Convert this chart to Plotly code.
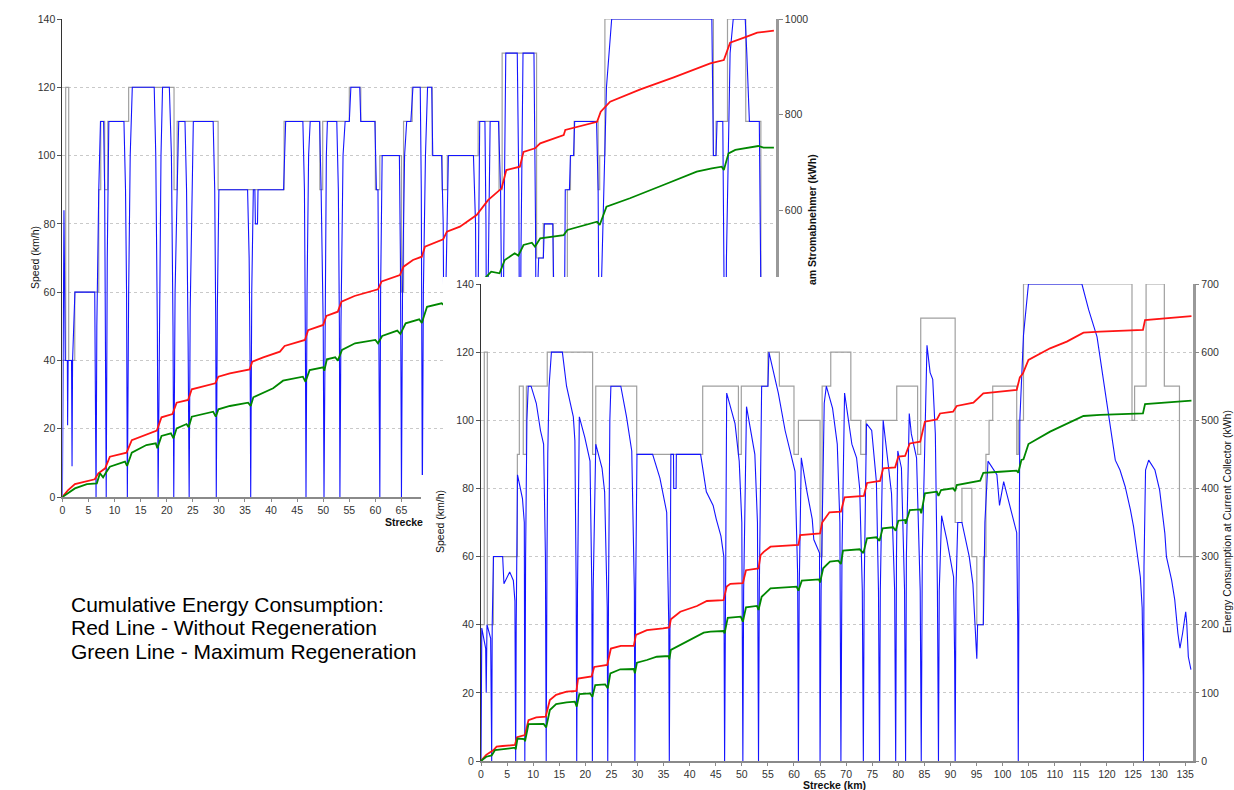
import plotly.graph_objects as go

W, H = 1234, 790

# ---------------- data (km, value) ----------------
SPEED_LIMIT = [(0, 40), (0.63, 120), (1.21, 40), (2.37, 60), (6.97, 90), (7.35, 110), (8.1, 90), (8.7, 110),
               (12.7, 120), (21.4, 90), (22.0, 110), (29.85, 90), (42.5, 110), (49.35, 90), (49.9, 110),
               (55.0, 120), (57.2, 110), (60.0, 90), (60.85, 100), (65.0, 60), (65.4, 110), (67.05, 120),
               (70.9, 100), (72.8, 90), (73.8, 100), (79.7, 110), (83.7, 90), (84.3, 130), (90.9, 70),
               (92.2, 80), (94.1, 60), (95.05, 40), (96.3, 60), (96.8, 90), (97.4, 100), (98.1, 110),
               (102.7, 90), (103.0, 100), (104.0, 140), (124.8, 100), (125.3, 110), (127.5, 140),
               (131.0, 110), (133.9, 60), (136.6, 60)]

TOP_SPEED = [(0, 0), (0.3, 84), (0.55, 40), (0.95, 40), (1.0, 21), (1.1, 40), (1.75, 40), (1.85, 9), (1.95, 40),
             (2.4, 60), (6.2, 60), (6.35, 35), (6.45, 0), (6.6, 50), (6.97, 90), (7.3, 110), (7.9, 110), (8.1, 90),
             (8.25, 50), (8.4, 0), (8.6, 70), (8.9, 110), (11.8, 110), (12.1, 90), (12.3, 60), (12.45, 0),
             (12.7, 60), (13.0, 100), (13.4, 120), (17.6, 120), (17.9, 100), (18.2, 50), (18.35, 0), (18.6, 60),
             (18.9, 100), (19.2, 120), (20.5, 120), (20.9, 100), (21.2, 50), (21.35, 0), (21.6, 60), (22.0, 90),
             (22.3, 110), (23.5, 110), (23.8, 90), (24.1, 45), (24.3, 0), (24.5, 55), (24.9, 100), (25.1, 110),
             (28.9, 110), (29.2, 90), (29.4, 50), (29.5, 0), (29.7, 55), (30.0, 90), (35.5, 90), (35.8, 70),
             (36.0, 35), (36.1, 0), (36.3, 60), (36.6, 90), (36.9, 90), (37.0, 80), (37.4, 80), (37.5, 90),
             (42.4, 90), (42.8, 110), (46.1, 110), (46.4, 90), (46.6, 40), (46.7, 0), (46.9, 60), (47.2, 100),
             (47.5, 110), (49.3, 110), (49.6, 90), (50.0, 50), (50.15, 0), (50.35, 60), (50.6, 100), (50.8, 110),
             (52.6, 110), (52.9, 90), (53.1, 50), (53.2, 0), (53.4, 50), (53.8, 100), (54.2, 110), (55.0, 110),
             (55.3, 120), (57.0, 120), (57.2, 110), (59.9, 110), (60.2, 90), (60.5, 90), (60.7, 50), (60.85, 0),
             (61.0, 60), (61.3, 100), (64.6, 100), (64.8, 70), (64.95, 20), (65.0, 0), (65.2, 60), (65.6, 100),
             (66.0, 110), (66.8, 110), (67.2, 120), (68.6, 120), (68.8, 90), (68.95, 40), (69.0, 0), (69.2, 60),
             (69.6, 100), (70.0, 120), (70.8, 120), (71.0, 100), (72.7, 100), (73.0, 80), (73.2, 40), (73.3, 0),
             (73.5, 60), (74.0, 100), (78.8, 100), (79.2, 80), (79.45, 20), (79.5, 0), (79.7, 60), (80.0, 110),
             (81.0, 110), (81.2, 80), (81.35, 20), (81.4, 0), (81.6, 60), (82.0, 110), (83.6, 110), (84.0, 90),
             (84.3, 40), (84.4, 0), (84.6, 70), (85.0, 130), (87.2, 130), (87.5, 90), (87.65, 30), (87.7, 0),
             (87.9, 70), (88.3, 130), (90.4, 130), (90.7, 80), (90.85, 30), (90.9, 0), (91.1, 60), (91.3, 70),
             (92.2, 70), (92.4, 80), (94.0, 80), (94.2, 60), (95.0, 60), (95.05, 40), (96.2, 40), (96.4, 90),
             (97.2, 90), (97.4, 100), (98.0, 100), (98.2, 110), (102.4, 110), (102.7, 90), (102.9, 40), (103.0, 0),
             (103.3, 60), (104.0, 100), (104.3, 120), (105.3, 140), (124.5, 140), (124.8, 100), (125.3, 100),
             (125.5, 110), (126.6, 110), (126.9, 50), (127.0, 0), (127.3, 70), (128.0, 130), (128.6, 140),
             (130.9, 140), (131.2, 130), (131.7, 110), (133.6, 110), (133.9, 60), (136.6, 60)]

TOP_RED = [(0, 0), (1.1, 14.6), (2.4, 27), (4.7, 34), (6.2, 37), (6.9, 49.5), (8.2, 60), (9.1, 84.3), (12.3, 92.7),
           (13.3, 119), (16.1, 130), (18.1, 138.8), (19.0, 166.7), (21.1, 173.6), (21.9, 197.3), (24.1, 203),
           (24.8, 225.3), (29.3, 237.8), (29.9, 251.7), (32.1, 258.8), (35.9, 267), (36.4, 283), (38.5, 292),
           (41.7, 304), (42.6, 316), (46.5, 328.5), (47.1, 349), (50.0, 360), (50.6, 378.7), (52.8, 387.7),
           (53.5, 408.6), (56.0, 420.5), (60.5, 434.5), (61.2, 451), (64.7, 464.4), (65.4, 481.8), (67.2, 495.8),
           (68.9, 502.7), (69.5, 523.6), (73.0, 539), (73.7, 555), (76.2, 565.5), (79.4, 590), (81.6, 621),
           (84.2, 645.8), (85.1, 684), (87.7, 691), (88.4, 722), (90.6, 729.5), (91.6, 740), (96.1, 757),
           (96.4, 767.8), (102.5, 785), (103.2, 806), (105.0, 827), (110.8, 852.9), (117.2, 878), (124.2, 907.3),
           (126.8, 914), (128.0, 950.4), (131.2, 963), (133.2, 971.3), (136.4, 975.5)]

TOP_GREEN = [(0, 0), (1.1, 9), (2.4, 18), (4.7, 27), (6.6, 28.6), (7.2, 49.6), (7.8, 41), (8.3, 50), (9.1, 63.4),
             (12.0, 73.9), (12.4, 64.9), (13.3, 92.7), (16.1, 108.8), (17.9, 112.3), (18.2, 101.9), (19.0, 127.6),
             (20.8, 133.3), (21.3, 122.8), (21.9, 143.7), (23.8, 152.7), (24.2, 146), (24.8, 168), (28.9, 178.5),
             (29.4, 168), (29.9, 183.4), (32.1, 190.4), (35.6, 197.3), (36.1, 190.4), (36.6, 208.6), (40.4, 227.4),
             (42.3, 243.3), (46.1, 251.7), (46.6, 241.2), (47.4, 265.7), (50.0, 271.3), (50.2, 264), (50.7, 288),
             (52.3, 292.3), (52.8, 285.2), (53.6, 307.5), (56.1, 321.5), (60.0, 328.5), (60.5, 321.5),
             (61.3, 336.8), (64.2, 348), (64.8, 341), (65.8, 363.4), (68.4, 371.7), (68.9, 364), (69.9, 398),
             (72.7, 405.2), (73.3, 400), (74.0, 420), (76.4, 428), (79.5, 445), (81.3, 460.9), (82.2, 471.4),
             (83.8, 468), (84.8, 495.8), (86.7, 509.8), (87.4, 505), (88.4, 527.2), (90.0, 532), (90.6, 523.6),
             (91.6, 541.2), (96.1, 548), (96.8, 558.6), (102.5, 576), (103.0, 569), (104.3, 607.3), (108.8, 625),
             (115.2, 652.7), (121.6, 680.6), (124.5, 687.7), (126.4, 691), (126.8, 684), (127.7, 719), (129.0, 726),
             (131.2, 729.5), (133.4, 734.3), (134.4, 730.8), (136.4, 730.8)]

BOT_SPEED = [(0, 0), (0.15, 39), (0.9, 33), (1.0, 20), (1.15, 40), (1.85, 36), (2.0, 10), (2.05, 0), (2.15, 40),
             (2.4, 60), (4.15, 60), (4.4, 52), (5.5, 55.5), (6.2, 53), (6.5, 47), (6.6, 20), (6.65, 0), (6.75, 40),
             (7.0, 84), (7.95, 77), (8.3, 70), (8.4, 0), (8.55, 60), (8.8, 100), (9.05, 110), (9.6, 110),
             (10.6, 105), (11.4, 97), (12.0, 93), (12.35, 60), (12.5, 0), (12.65, 60), (12.8, 90), (13.05, 110),
             (13.5, 120), (15.6, 120), (16.4, 110), (17.7, 101), (18.0, 94), (18.25, 50), (18.35, 0), (18.5, 50),
             (18.85, 101), (19.9, 95), (20.9, 88), (21.25, 50), (21.35, 0), (21.5, 50), (22.0, 93), (23.2, 86),
             (23.7, 79), (24.2, 45), (24.3, 0), (24.45, 50), (24.7, 100), (24.9, 110), (26.8, 110), (27.9, 101),
             (28.9, 91), (29.4, 50), (29.5, 0), (29.65, 50), (29.9, 90), (32.9, 90), (34.3, 83), (35.6, 73),
             (36.0, 40), (36.1, 0), (36.25, 50), (36.4, 90), (36.9, 90), (36.95, 80), (37.4, 80), (37.45, 90),
             (42.1, 90), (43.2, 79), (44.5, 75), (45.1, 71), (46.0, 66), (46.55, 60), (46.7, 0), (46.85, 50),
             (47.1, 108), (48.7, 99), (49.5, 88), (50.0, 70), (50.2, 0), (50.35, 50), (50.9, 104), (52.5, 90),
             (53.0, 70), (53.2, 0), (53.35, 50), (53.8, 110), (55.0, 110), (55.2, 120), (57.0, 108), (58.3, 97),
             (60.2, 85), (60.7, 55), (60.85, 0), (61.0, 50), (61.4, 89), (62.5, 79), (63.5, 71), (63.8, 65),
             (64.9, 61), (65.0, 0), (65.2, 50), (65.8, 105), (66.2, 110), (67.4, 103.5), (68.3, 93), (68.8, 70),
             (69.0, 0), (69.2, 60), (69.7, 108), (71.1, 93), (72.0, 89), (72.6, 80), (73.1, 50), (73.3, 0),
             (73.45, 50), (73.9, 99), (74.9, 97), (75.8, 82), (76.2, 50), (76.4, 0), (76.55, 50), (77.1, 100),
             (77.8, 91), (78.7, 78.5), (79.3, 50), (79.5, 0), (79.65, 60), (79.9, 91), (80.6, 86), (81.2, 50),
             (81.4, 0), (81.55, 60), (82.1, 102), (82.5, 96), (83.5, 89), (84.2, 50), (84.4, 0), (84.6, 60),
             (85.5, 122), (86.1, 114), (86.6, 112), (87.1, 96), (87.5, 50), (87.7, 0), (87.85, 50), (88.3, 72),
             (89.3, 65), (90.6, 54), (90.8, 30), (90.9, 0), (91.05, 50), (91.4, 70), (92.2, 70), (92.8, 66),
             (93.6, 60), (94.3, 52), (94.9, 36), (95.05, 30), (95.2, 40), (96.3, 40), (96.6, 70), (97.2, 88),
             (98.9, 84), (99.4, 75), (100.2, 82), (101.8, 72.7), (102.7, 67), (102.9, 40), (103.0, 0), (103.1, 40),
             (103.3, 100), (104.0, 125), (104.95, 140), (115.2, 140), (116.5, 132.4), (118.1, 124.5),
             (119.4, 110.8), (121.6, 88.3), (122.5, 85.4), (123.5, 80.5), (124.5, 73.7), (125.1, 68.8),
             (125.7, 62), (126.4, 54), (126.75, 45), (126.95, 25), (127.0, 0), (127.1, 57), (127.4, 85.4),
             (128.0, 88.3), (129.2, 85.4), (130.1, 79.5), (131.1, 66.8), (131.4, 60), (132.4, 53.1), (133.0, 47.3),
             (133.6, 37.5), (134.0, 33.1), (134.5, 37.5), (135.1, 43.8), (135.3, 40.4), (135.6, 30.6),
             (136.1, 26.8)]

BOT_RED = [(0, 0), (1.0, 9), (2.4, 16), (3.0, 21), (4.15, 22), (6.5, 23.5), (6.9, 35), (8.4, 38), (9.1, 60),
           (10.6, 64), (12.4, 65), (13.2, 89.5), (14.4, 97), (16.4, 101.7), (18.3, 103), (18.6, 121), (21.2, 124),
           (21.7, 138), (24.2, 141), (24.9, 165), (26.8, 169), (29.3, 169), (29.7, 185), (31.8, 192),
           (34.9, 194.7), (36.1, 196), (36.4, 208), (38.2, 219), (41.4, 227.5), (43.3, 234.8), (46.5, 236),
           (47.1, 256), (47.8, 260), (50.2, 261), (50.8, 280), (53.2, 282.7), (53.6, 302), (54.2, 307),
           (55.5, 314.5), (60.85, 317), (61.2, 331.6), (65.0, 334), (65.4, 350), (66.2, 358.5), (66.8, 365),
           (69.0, 366), (69.7, 387), (73.4, 389), (74.0, 408), (76.5, 411), (77.1, 429.5), (79.4, 431),
           (80.0, 446.6), (81.3, 447.6), (82.2, 466), (84.2, 468.6), (85.1, 498), (87.4, 501.4), (88.0, 510),
           (90.5, 512.6), (91.2, 521), (94.4, 525.8), (96.3, 539.6), (99.5, 542), (102.7, 544.5), (103.3, 563),
           (103.9, 569), (104.95, 588.5), (109.1, 605.6), (112.3, 615.4), (115.5, 628.6), (118.7, 630),
           (126.9, 632.5), (127.3, 647), (131.5, 649.6), (136.2, 653)]

BOT_GREEN = [(0, 0), (1.0, 6.3), (2.05, 8.3), (2.7, 16), (6.5, 19.5), (6.65, 17), (7.0, 33), (8.3, 32.3),
             (8.44, 29), (9.1, 54), (12.0, 54.3), (12.5, 49.4), (13.2, 74.8), (14.4, 83.6), (16.4, 86), (18.0, 87),
             (18.35, 79.7), (18.85, 98.3), (20.9, 99.3), (21.35, 94.4), (21.9, 111.5), (23.8, 112.5),
             (24.3, 106.7), (24.8, 128.7), (26.7, 134.6), (29.3, 135), (29.5, 128.7), (29.9, 144.3),
             (31.8, 148.2), (33.7, 153), (36.0, 154), (36.1, 149), (36.4, 163), (38.9, 172.7), (40.8, 180),
             (42.7, 188.3), (44.0, 189.8), (46.5, 190.8), (46.7, 187.4), (47.3, 210), (49.8, 211.8),
             (50.2, 204.4), (50.8, 225.6), (52.9, 227.5), (53.2, 221.6), (53.8, 241), (55.5, 253.4),
             (60.5, 255.8), (60.85, 250), (61.5, 264.6), (64.8, 266.6), (65.0, 262), (65.6, 282.8),
             (66.9, 292.5), (68.5, 294), (69.0, 289), (69.4, 308.6), (72.6, 310.7), (73.3, 305), (74.0, 326.8),
             (75.8, 328.3), (76.4, 323), (77.0, 341.5), (79.0, 343), (79.5, 338), (80.0, 352.6), (81.3, 353.7),
             (81.4, 348), (82.2, 368.3), (84.2, 369.3), (84.4, 363.5), (85.1, 392.9), (87.4, 395.2), (87.7, 389),
             (88.2, 397.7), (90.5, 400.2), (90.9, 396), (91.2, 405), (95.7, 411.4), (96.3, 423), (99.5, 424.5),
             (102.7, 426), (103.0, 423), (103.6, 441.7), (104.0, 442.7), (104.95, 465.2), (109.1, 483.3),
             (112.3, 494.6), (115.5, 506.3), (118.7, 507.8), (126.9, 510.2), (127.3, 523.9), (131.5, 525.8),
             (136.2, 528.8)]

NOTE_LINES = ["Cumulative Energy Consumption:",
              "Red Line - Without Regeneration",
              "Green Line - Maximum Regeneration"]


def xs(s):
    return [p[0] for p in s]


def ys(s):
    return [p[1] for p in s]


BLUE = "rgb(20,20,255)"
GRAY = "rgb(160,160,160)"
RED = "rgb(255,20,20)"
GREEN = "rgb(0,135,0)"

fig = go.Figure()

# ---- top (background) chart: x / y / y2 ----
fig.add_trace(go.Scatter(x=xs(SPEED_LIMIT), y=ys(SPEED_LIMIT), mode="lines", line=dict(color=GRAY, width=1.2, shape="hv"),
                         xaxis="x", yaxis="y", hoverinfo="skip"))
fig.add_trace(go.Scatter(x=xs(TOP_SPEED), y=ys(TOP_SPEED), mode="lines", line=dict(color=BLUE, width=1.1),
                         xaxis="x", yaxis="y", hoverinfo="skip"))
fig.add_trace(go.Scatter(x=xs(TOP_RED), y=ys(TOP_RED), mode="lines", line=dict(color=RED, width=1.8),
                         xaxis="x", yaxis="y2", hoverinfo="skip"))
fig.add_trace(go.Scatter(x=xs(TOP_GREEN), y=ys(TOP_GREEN), mode="lines", line=dict(color=GREEN, width=1.8),
                         xaxis="x", yaxis="y2", hoverinfo="skip"))

# ---- white cover boxes (empty subplots, their backgrounds hide the back chart) ----
fig.add_trace(go.Scatter(x=[None], y=[None], xaxis="x2", yaxis="y3", hoverinfo="skip"))
fig.add_trace(go.Scatter(x=[None], y=[None], xaxis="x3", yaxis="y4", hoverinfo="skip"))

# ---- bottom (front) chart: x4 / y5 / y6 ----
fig.add_trace(go.Scatter(x=xs(SPEED_LIMIT), y=ys(SPEED_LIMIT), mode="lines", line=dict(color=GRAY, width=1.2, shape="hv"),
                         xaxis="x4", yaxis="y5", hoverinfo="skip"))
fig.add_trace(go.Scatter(x=xs(BOT_SPEED), y=ys(BOT_SPEED), mode="lines", line=dict(color=BLUE, width=1.1),
                         xaxis="x4", yaxis="y5", hoverinfo="skip"))
fig.add_trace(go.Scatter(x=xs(BOT_RED), y=ys(BOT_RED), mode="lines", line=dict(color=RED, width=1.8),
                         xaxis="x4", yaxis="y6", hoverinfo="skip"))
fig.add_trace(go.Scatter(x=xs(BOT_GREEN), y=ys(BOT_GREEN), mode="lines", line=dict(color=GREEN, width=1.8),
                         xaxis="x4", yaxis="y6", hoverinfo="skip"))

TICKFONT = dict(family="Liberation Sans, Arial, sans-serif", size=10.5, color="#333")


def px_x(p):
    return p / W


def px_y(p):
    return 1 - p / H


common_x = dict(dtick=5, tick0=0, showline=True, linecolor="#8a8a8a", linewidth=1.5, ticks="outside", ticklen=3,
                tickcolor="#8a8a8a", tickfont=TICKFONT, showgrid=False, zeroline=False, fixedrange=True,
                automargin=False)
left_y = dict(range=[0, 140], dtick=20, showgrid=True, gridcolor="#c9c9c9", griddash="dot", gridwidth=1,
              showline=True, linecolor="#333", linewidth=1, ticks="outside", ticklen=4, tickcolor="#555",
              tickfont=TICKFONT, zeroline=False, fixedrange=True, automargin=False)
right_y = dict(side="right", showgrid=False, showline=True, linecolor="#999", linewidth=2.5, ticks="outside",
               ticklen=4, tickcolor="#888", tickfont=TICKFONT, zeroline=False, fixedrange=True, automargin=False)
hidden = dict(visible=False, fixedrange=True, automargin=False)

fig.update_layout(
    width=W, height=H, autosize=False,
    margin=dict(l=0, r=0, t=0, b=0, pad=0, autoexpand=False),
    paper_bgcolor="white", plot_bgcolor="white",
    showlegend=False,
    xaxis=dict(common_x, domain=[px_x(62.4), px_x(776)], range=[0, 136.8], anchor="y"),
    yaxis=dict(left_y, domain=[px_y(497), px_y(19)], anchor="x"),
    yaxis2=dict(right_y, range=[0, 1000], dtick=200, overlaying="y", anchor="x"),
    xaxis2=dict(hidden, domain=[px_x(443), 1], anchor="y3"),
    yaxis3=dict(hidden, domain=[0, px_y(277)], anchor="x2"),
    xaxis3=dict(hidden, domain=[px_x(421), 1], anchor="y4"),
    yaxis4=dict(hidden, domain=[0, px_y(475)], anchor="x3"),
    xaxis4=dict(common_x, domain=[px_x(481), px_x(1192.5)], range=[0, 136.4], anchor="y5"),
    yaxis5=dict(left_y, domain=[px_y(761), px_y(284)], anchor="x4"),
    yaxis6=dict(right_y, range=[0, 700], dtick=100, overlaying="y5", anchor="x4"),
)

LABEL_FONT = dict(family="Liberation Sans, Arial, sans-serif", size=10.5, color="#111")
NOTE_FONT = dict(family="Liberation Sans, Arial, sans-serif", size=21, color="#000")
annots = [
    dict(text="Speed (km/h)", x=px_x(35), y=px_y(258), textangle=-90, font=LABEL_FONT),
    dict(text="<b>Strecke</b>", x=px_x(404), y=px_y(522), font=LABEL_FONT),
    dict(text="<b>am Stromabnehmer (kWh)</b>", x=px_x(812), y=px_y(220), textangle=-90, font=LABEL_FONT),
    dict(text="Speed (km/h)", x=px_x(440), y=px_y(522), textangle=-90, font=LABEL_FONT),
    dict(text="<b>Strecke (km)</b>", x=px_x(834), y=px_y(785), font=LABEL_FONT),
    dict(text="Energy Consumption at Current Collector (kWh)", x=px_x(1227), y=px_y(522), textangle=-90,
         font=LABEL_FONT),
]
for i, line in enumerate(NOTE_LINES):
    annots.append(dict(text=line, x=px_x(69), y=px_y(604 + i * 23.5), xanchor="left", font=NOTE_FONT))

for a in annots:
    a.setdefault("xanchor", "center")
    a.setdefault("yanchor", "middle")
    fig.add_annotation(dict(a, xref="paper", yref="paper", showarrow=False))

fig.write_html("out.html", config={"displayModeBar": False},
               post_script="document.body.style.margin='0';document.body.style.overflow='hidden';")
